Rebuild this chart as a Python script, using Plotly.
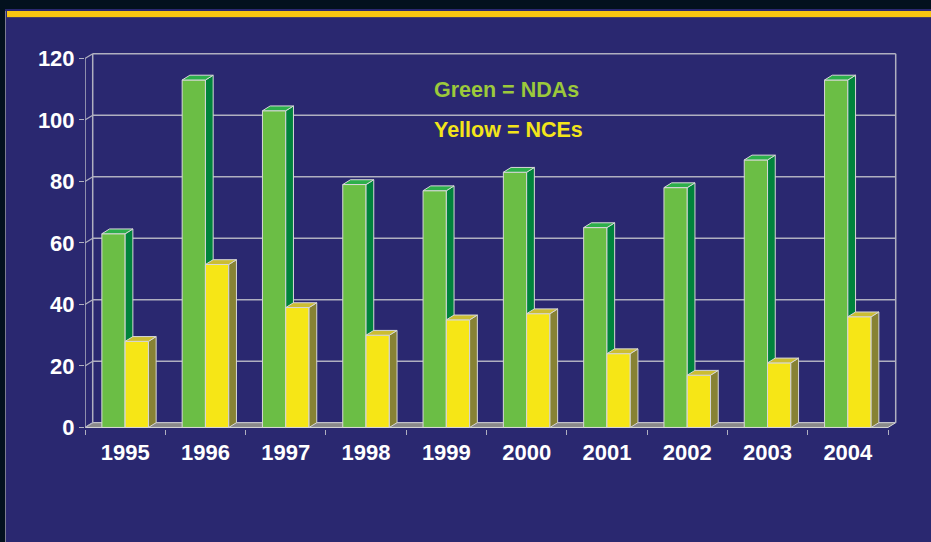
import plotly.graph_objects as go

# Approvals per year
years = ["1995", "1996", "1997", "1998", "1999", "2000", "2001", "2002", "2003", "2004"]
ndas = [63, 113, 103, 79, 77, 83, 65, 78, 87, 113]
nces = [28, 53, 39, 30, 35, 37, 24, 17, 21, 36]
y_ticks = [0, 20, 40, 60, 80, 100, 120]

# Canvas and plot-area geometry
W, H = 931, 542
L, R, T, B = 85, 31, 50, 113
PX_PER_CAT = 80.3
PX_PER_UNIT = 3.075
X_MIN = -0.5
X_MAX = X_MIN + (W - L - R) / PX_PER_CAT
Y_MIN = -0.5
Y_MAX = Y_MIN + (H - T - B) / PX_PER_UNIT

# Pseudo-3D depth offset (category units, value units)
DX, DY = 0.096, 1.56
BAR_W = 0.29
N = len(years)
X_LEFT, X_RIGHT = -0.5, N - 0.5

BG = "#2A2870"
EDGE = "#D8D8D8"
GRID = "#B0B0C0"
FONT = "Liberation Sans, Arial, sans-serif"

GREEN = dict(front="#6BBE45", side="#00833C", top="#2DAF4B")
YELLOW = dict(front="#F6E616", side="#878234", top="#CBBD33")


def px_x(p):
    return (p - L) / (W - L - R)


def px_y(p):
    return (H - B - p) / (H - T - B)


def face_traces(values, offset, colors, xa, ya):
    sx, sy, tx, ty = [], [], [], []
    for i, v in enumerate(values):
        x0 = i + offset
        x1 = x0 + BAR_W
        sx += [x1, x1 + DX, x1 + DX, x1, x1, None]
        sy += [0, DY, v + DY, v, 0, None]
        tx += [x0, x1, x1 + DX, x0 + DX, x0, None]
        ty += [v, v, v + DY, v + DY, v, None]
    common = dict(mode="lines", fill="toself", hoverinfo="skip", showlegend=False,
                  line=dict(color=EDGE, width=1), xaxis=xa, yaxis=ya)
    return [
        go.Scatter(x=sx, y=sy, fillcolor=colors["side"], **common),
        go.Scatter(x=tx, y=ty, fillcolor=colors["top"], **common),
    ]


fig = go.Figure()

# NDAs: front faces then side/top faces on the base subplot
fig.add_trace(go.Bar(x=list(range(N)), y=ndas, width=BAR_W, offset=-BAR_W,
                     marker=dict(color=GREEN["front"], line=dict(color=EDGE, width=1)),
                     hoverinfo="skip", showlegend=False, xaxis="x", yaxis="y"))
for tr in face_traces(ndas, -BAR_W, GREEN, "x", "y"):
    fig.add_trace(tr)

# NCEs on an overlaid subplot so they sit in front of the NDA side faces
fig.add_trace(go.Bar(x=list(range(N)), y=nces, width=BAR_W, offset=0,
                     marker=dict(color=YELLOW["front"], line=dict(color=EDGE, width=1)),
                     hoverinfo="skip", showlegend=False, xaxis="x2", yaxis="y2"))
for tr in face_traces(nces, 0, YELLOW, "x2", "y2"):
    fig.add_trace(tr)

shapes = []
# Floor
shapes.append(dict(type="path", xref="x", yref="y", layer="below",
                   path=f"M{X_LEFT},0 L{X_RIGHT},0 L{X_RIGHT + DX},{DY} L{X_LEFT + DX},{DY} Z",
                   fillcolor="#8A8A8A", line=dict(color=EDGE, width=1)))
# Back-wall gridlines and left-wall connectors
for v in y_ticks:
    if v > 0:
        shapes.append(dict(type="line", xref="x", yref="y", layer="below",
                           x0=X_LEFT + DX, x1=X_RIGHT + DX, y0=v + DY, y1=v + DY,
                           line=dict(color=GRID, width=1.5)))
    shapes.append(dict(type="line", xref="x", yref="y", layer="below",
                       x0=X_LEFT, x1=X_LEFT + DX, y0=v, y1=v + DY,
                       line=dict(color=GRID, width=1.2)))
# Wall edges
top = y_ticks[-1]
for x in (X_LEFT + DX, X_RIGHT + DX):
    shapes.append(dict(type="line", xref="x", yref="y", layer="below",
                       x0=x, x1=x, y0=DY, y1=top + DY, line=dict(color=GRID, width=1.5)))
shapes.append(dict(type="line", xref="x", yref="y", layer="below",
                   x0=X_LEFT, x1=X_LEFT, y0=0, y1=top, line=dict(color=GRID, width=1.5)))

# Slide frame: dark top band, gold rule, dark left edge
shapes += [
    dict(type="rect", xref="paper", yref="paper", layer="below",
         x0=px_x(0), x1=px_x(W), y0=px_y(9), y1=px_y(0),
         fillcolor="#03111E", line=dict(width=0)),
    dict(type="rect", xref="paper", yref="paper", layer="below",
         x0=px_x(7), x1=px_x(W), y0=px_y(17), y1=px_y(11),
         fillcolor="#F8C610", line=dict(width=0)),
    dict(type="line", xref="paper", yref="paper", layer="below",
         x0=px_x(7), x1=px_x(W), y0=px_y(17.5), y1=px_y(17.5),
         line=dict(color="#4A4260", width=1)),
    dict(type="rect", xref="paper", yref="paper", layer="below",
         x0=px_x(0), x1=px_x(5), y0=px_y(H), y1=px_y(9),
         fillcolor="#03111E", line=dict(width=0)),
    dict(type="line", xref="paper", yref="paper", layer="below",
         x0=px_x(5.5), x1=px_x(5.5), y0=px_y(H), y1=px_y(11),
         line=dict(color="#7C7C90", width=1)),
]

annotations = [
    dict(text="Green = NDAs", x=3.82, y=109.8, xref="x", yref="y",
         xanchor="left", yanchor="middle", showarrow=False,
         font=dict(family=FONT, size=21.5, color="#9CC93B", weight="bold")),
    dict(text="Yellow = NCEs", x=3.82, y=96.9, xref="x", yref="y",
         xanchor="left", yanchor="middle", showarrow=False,
         font=dict(family=FONT, size=21.5, color="#F3E51A", weight="bold")),
]

tick_font = dict(family=FONT, size=22, color="white", weight="bold")

fig.update_layout(
    width=W, height=H,
    margin=dict(l=L, r=R, t=T, b=B, pad=0),
    paper_bgcolor=BG, plot_bgcolor=BG,
    barmode="overlay",
    shapes=shapes, annotations=annotations,
    xaxis=dict(range=[X_MIN, X_MAX], tickmode="array", tickvals=list(range(N)),
               ticktext=years, ticks="", showgrid=False, zeroline=False, showline=False,
               tickfont=tick_font, ticklabelstandoff=8,
               minor=dict(tickmode="array", tickvals=[k - 0.5 for k in range(N + 1)],
                          ticks="outside", ticklen=5, tickcolor=GRID, tickwidth=1.2,
                          showgrid=False)),
    yaxis=dict(range=[Y_MIN, Y_MAX], tickmode="array", tickvals=y_ticks,
               ticks="outside", ticklen=5, tickcolor=GRID, tickwidth=1.2,
               showgrid=False, zeroline=False, showline=False,
               tickfont=tick_font, ticklabelstandoff=0),
    xaxis2=dict(range=[X_MIN, X_MAX], overlaying="x", visible=False),
    yaxis2=dict(range=[Y_MIN, Y_MAX], overlaying="y", visible=False),
)

fig.write_html("out.html")
